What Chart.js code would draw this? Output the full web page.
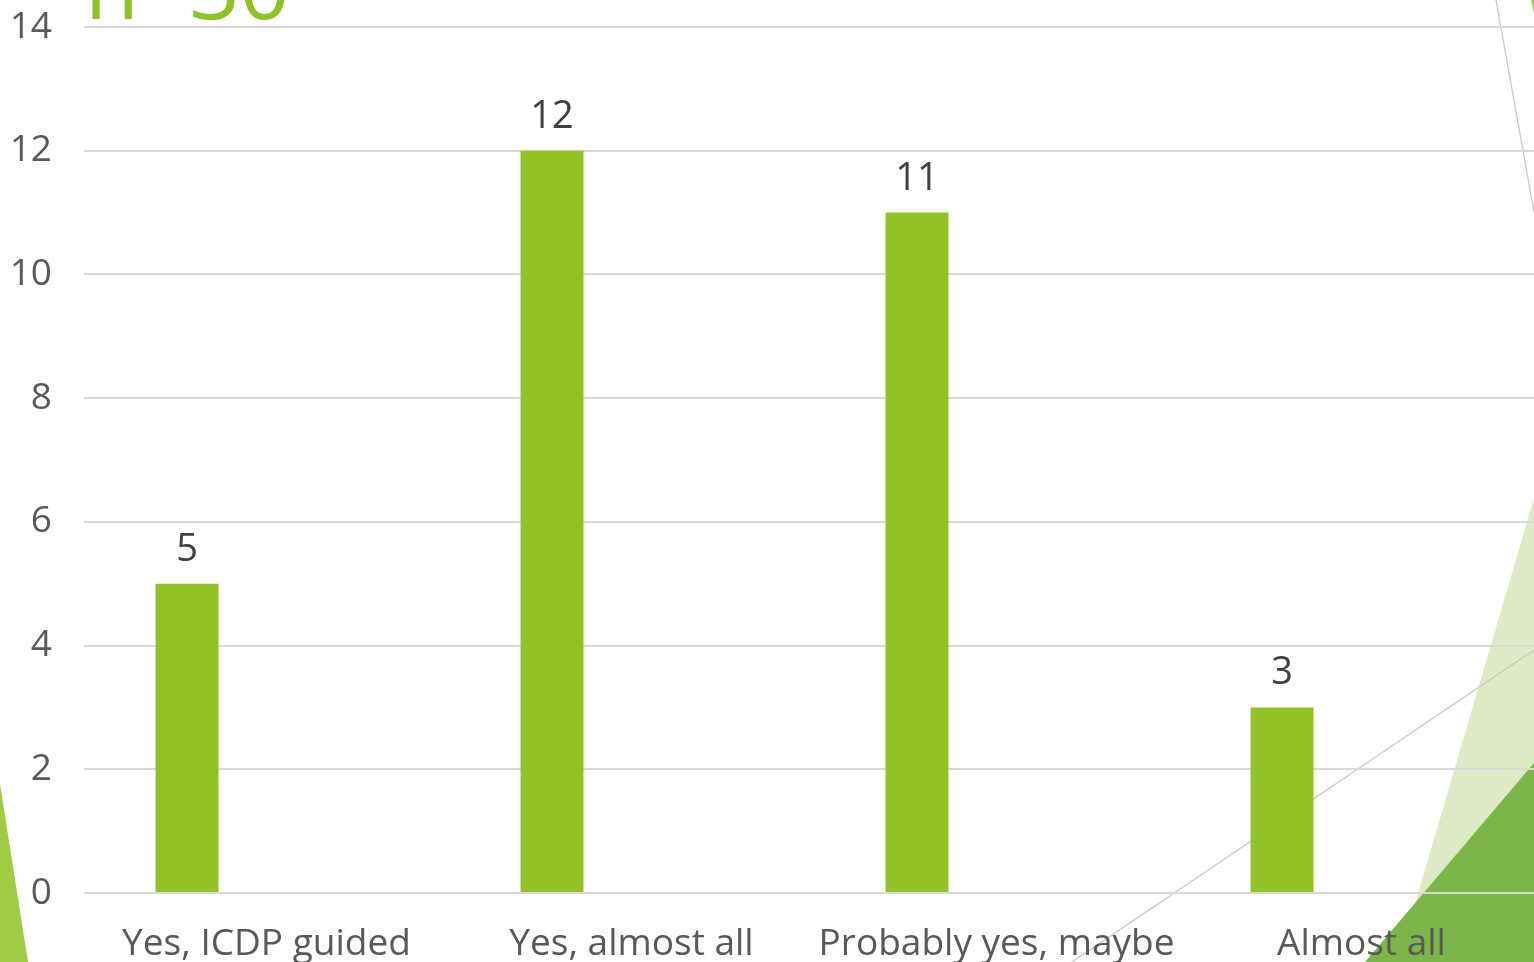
<!DOCTYPE html>
<html>
<head>
<meta charset="utf-8">
<script src="https://cdn.jsdelivr.net/npm/chart.js@4.4.1/dist/chart.umd.min.js"></script>
<style>
  html, body { margin: 0; padding: 0; background: #fff; overflow: hidden; }
  #wrap { position: relative; width: 1534px; height: 962px; overflow: hidden; }
  #chart { position: absolute; left: 0; top: 0; }
  #title {
    position: absolute; left: 85px; top: -59px;
    font-family: "Open Sans", sans-serif; font-size: 88px; line-height: 88px;
    color: #90c226; white-space: nowrap;
  }
</style>
</head>
<body>
<div id="wrap">
  <canvas id="chart" width="1544" height="962"></canvas>
  <div id="title">n=30</div>
</div>
<script>
const categories = ['Yes, ICDP guided', 'Yes, almost all', 'Probably yes, maybe', 'Almost all'];
const counts = [5, 12, 11, 3];
const emptySeries = [null, null, null, null];
const yMin = 0;
const yMax = 14;
const yStep = 2;

const green = '#92c225';

// slide background shapes (Facet-style triangles and thin lines)
const backdrop = {
    id: 'backdrop',
    beforeDraw(chart) {
        const c = chart.ctx;
        c.save();
        // left sliver
        c.fillStyle = '#9fcb45';
        c.beginPath();
        c.moveTo(0, 784);
        c.lineTo(28, 962);
        c.lineTo(0, 962);
        c.closePath();
        c.fill();
        // right light triangle
        c.fillStyle = '#dee9c5';
        c.beginPath();
        c.moveTo(1534, 498);
        c.lineTo(1398, 962);
        c.lineTo(1534, 962);
        c.closePath();
        c.fill();
        // right dark triangle
        c.fillStyle = '#7cb54a';
        c.beginPath();
        c.moveTo(1534, 763);
        c.lineTo(1365, 962);
        c.lineTo(1534, 962);
        c.closePath();
        c.fill();
        // thin lines
        c.strokeStyle = '#c8c8c8';
        c.lineWidth = 1.3;
        c.beginPath();
        c.moveTo(1534, 650);
        c.lineTo(1072, 962);
        c.moveTo(1496, 0);
        c.lineTo(1534, 212);
        c.stroke();
        // top-right corner hint
        c.fillStyle = '#a6cf5a';
        c.beginPath();
        c.moveTo(1531, 0);
        c.lineTo(1534, 0);
        c.lineTo(1534, 14);
        c.closePath();
        c.fill();
        c.restore();
    }
};

const valueLabels = {
    id: 'valueLabels',
    afterDatasetsDraw(chart) {
        const c = chart.ctx;
        const meta = chart.getDatasetMeta(0);
        c.save();
        c.font = '38px "Open Sans", sans-serif';
        c.fillStyle = '#404040';
        c.textAlign = 'center';
        c.textBaseline = 'alphabetic';
        meta.data.forEach((bar, i) => {
            c.fillText(String(counts[i]), bar.x, bar.y - 23);
        });
        c.restore();
    }
};

new Chart(document.getElementById('chart'), {
    type: 'bar',
    data: {
        labels: categories,
        datasets: [{
            label: 'Count',
            data: counts,
            backgroundColor: green,
            categoryPercentage: 0.871,
            barPercentage: 0.396
        }, {
            label: 'Empty',
            data: emptySeries,
            backgroundColor: 'transparent',
            categoryPercentage: 0.871,
            barPercentage: 0.396
        }]
    },
    options: {
        responsive: false,
        animation: false,
        devicePixelRatio: 1,
        layout: { padding: 0 },
        plugins: {
            legend: { display: false },
            tooltip: { enabled: false }
        },
        scales: {
            x: {
                grid: { display: false, drawTicks: false },
                border: { display: false },
                ticks: {
                    color: '#595959',
                    font: { family: 'Open Sans', size: 37 },
                    padding: 29,
                    maxRotation: 0,
                    autoSkip: false
                },
                afterFit(scale) { scale.height = 69; }
            },
            y: {
                min: yMin,
                max: yMax,
                ticks: {
                    stepSize: yStep,
                    color: '#595959',
                    font: { family: 'Open Sans', size: 37 },
                    padding: 32
                },
                grid: { color: '#d9d9d9', lineWidth: 2, drawTicks: false },
                border: { display: false },
                afterFit(scale) {
                    scale.width = 84;
                    scale.paddingTop = 27;
                }
            }
        }
    },
    plugins: [backdrop, valueLabels]
});
</script>
</body>
</html>
